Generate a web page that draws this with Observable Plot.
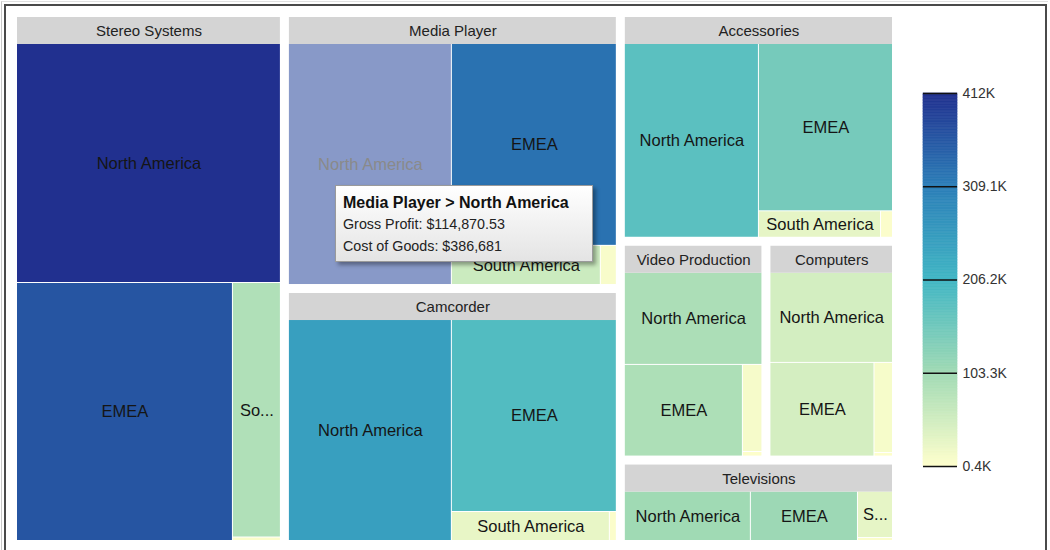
<!DOCTYPE html>
<html>
<head>
<meta charset="utf-8">
<script src="https://cdn.jsdelivr.net/npm/d3@7"></script>
<script src="https://cdn.jsdelivr.net/npm/@observablehq/plot@0.6"></script>
<style>
  html, body { margin: 0; padding: 0; background: #fff; overflow: hidden; width: 1050px; height: 550px; }
  body { font-family: "Liberation Sans", Arial, sans-serif; position: relative; }
  #outer { position: absolute; left: 1px; top: 1px; width: 1046px; height: 560px; border-left: 1px solid #c8c8c8; border-top: 1px solid #e0e0e0; }
  #frame { position: absolute; left: 4px; top: 4px; width: 1039px; height: 560px; border: 2px solid #4a4a4a; border-bottom: none; }
  #chart { position: absolute; left: 0; top: 0; }
  #legend { position: absolute; left: 900px; top: 0; }
  #tip { position: absolute; left: 335px; top: 185px; width: 241px; height: 67px; padding: 6px 8px 2px 7px;
         background: linear-gradient(#ffffff, #e4e4e4); border: 1px solid #9a9a9a;
         box-shadow: 3px 3px 4px rgba(0,0,0,0.35); color: #111; }
  #tip .t { font-weight: bold; font-size: 16px; line-height: 22px; }
  #tip .r { font-size: 14.3px; line-height: 21.5px; color: #222; }
</style>
</head>
<body>
<div id="outer"></div>
<div id="frame"></div>
<div id="chart"></div>
<div id="legend"></div>
<div id="tip"></div>
<script>
// ---- data ----
const categories = ["Stereo Systems", "Media Player", "Camcorder", "Accessories", "Video Production", "Computers", "Televisions"];
const regions = ["North America", "EMEA", "South America", "Asia Pacific"];
// Gross Profit (size)
const profitNorthAmerica = [173400, 114870.53, 106530, 78750, 39810, 34930, 27320];
const profitEMEA         = [153150, 97370, 93680, 67990, 33980, 30810, 23210];
const profitSouthAmerica = [33570, 17060, 13550, 9790, 5340, 5280, 7140];
const profitAsiaPacific  = [460, 1833, 600, 960, 280, 205, 455];
// Cost of Goods (colour)
const costNorthAmerica = [412000, 386681, 249400, 178400, 91000, 48700, 104000];
const costEMEA         = [363700, 326600, 187700, 149600, 90000, 48000, 108000];
const costSouthAmerica = [86800, 57000, 25600, 28000, 10700, 10000, 28000];
const costAsiaPacific  = [5000, 8000, 5000, 5000, 3000, 3000, 5000];
// colour legend
const legendTicks  = [400, 103300, 206200, 309100, 412000];
const legendLabels = ["0.4K", "103.3K", "206.2K", "309.1K", "412K"];
const legendColors = ["#ffffcc", "#a1dab4", "#41b6c4", "#2c7fb8", "#21308f"];
// hovered cell (tooltip)
const hoveredCategory = "Media Player";
const hoveredRegion = "North America";

// ---- build hierarchy ----
const profits = [profitNorthAmerica, profitEMEA, profitSouthAmerica, profitAsiaPacific];
const costs = [costNorthAmerica, costEMEA, costSouthAmerica, costAsiaPacific];
const rows = [];
categories.forEach((c, i) => regions.forEach((r, j) =>
  rows.push({category: c, region: r, profit: profits[j][i], cost: costs[j][i]})));

const W = 875, H = 523, HEADER = 27;
const root = d3.hierarchy({children: categories.map(c => ({name: c, children: rows.filter(r => r.category === c)}))})
  .sum(d => d.profit || 0)
  .sort((a, b) => b.value - a.value);
d3.treemap()
  .tile(d3.treemapSquarify.ratio(1))
  .size([W, H])
  .paddingInner(d => d.depth === 0 ? 9 : 1)
  .paddingTop(d => d.depth === 1 ? HEADER : 0)(root);

const ctx = document.createElement("canvas").getContext("2d");
ctx.font = "16.5px 'Liberation Sans', Arial, sans-serif";
function fitLabel(text, w, h) {
  if (h < 18) return "";
  const avail = w - 8;
  if (ctx.measureText(text).width <= avail) return text;
  for (let k = text.length - 1; k >= 1; k--) {
    const t = text.slice(0, k) + "...";
    if (ctx.measureText(t).width <= avail) return t;
  }
  return "";
}

const leaves = root.leaves().map(n => ({
  ...n.data, x0: n.x0, x1: n.x1, y0: n.y0, y1: n.y1,
  hover: n.data.category === hoveredCategory && n.data.region === hoveredRegion,
  label: fitLabel(n.data.region, n.x1 - n.x0, n.y1 - n.y0)
}));
const cats = root.children.map(n => ({name: n.data.name, x0: n.x0, x1: n.x1, y0: n.y0, y1: n.y1}));

const colorScale = {type: "linear", domain: legendTicks, range: legendColors};

const chart = Plot.plot({
  width: 1050, height: 550,
  x: {domain: [0, W], range: [17, 17 + W], axis: null},
  y: {domain: [0, H], range: [17, 17 + H], axis: null},
  color: colorScale,
  style: {background: "transparent", fontFamily: "'Liberation Sans', Arial, sans-serif"},
  marks: [
    Plot.rect(leaves, {x1: "x0", x2: "x1", y1: "y0", y2: "y1", fill: "cost",
      fillOpacity: d => d.hover ? 0.54 : 1}),
    Plot.rect(cats, {x1: "x0", x2: "x1", y1: "y0", y2: d => d.y0 + HEADER, fill: "#d4d4d4"}),
    Plot.text(cats, {x: d => (d.x0 + d.x1) / 2, y: d => d.y0 + HEADER / 2 + 0.5, text: "name",
      fontSize: 15, fill: "#222"}),
    Plot.text(leaves.filter(d => d.label), {x: d => (d.x0 + d.x1) / 2, y: d => (d.y0 + d.y1) / 2,
      text: "label", fontSize: 16.5, fill: d => d.hover ? "#8a8a8a" : "#151515"})
  ]
});
document.getElementById("chart").append(chart);

// ---- vertical colour legend ----
const N = 240;
const bands = d3.range(N).map(i => {
  const a = legendTicks[0] + (legendTicks[4] - legendTicks[0]) * i / N;
  const b = legendTicks[0] + (legendTicks[4] - legendTicks[0]) * (i + 1) / N;
  return {a, b, m: (a + b) / 2};
});
const legend = Plot.plot({
  width: 150, height: 550,
  x: {domain: [0, 1], range: [23, 57], axis: null},
  y: {domain: [legendTicks[0], legendTicks[4]], range: [466, 93], axis: null},
  color: colorScale,
  style: {background: "transparent", fontFamily: "'Liberation Sans', Arial, sans-serif"},
  marks: [
    Plot.rect(bands, {x1: 0, x2: 1, y1: "a", y2: "b", fill: "m", stroke: "m", strokeWidth: 0.6}),
    Plot.ruleY(legendTicks, {x1: 0, x2: 1, stroke: "#111", strokeWidth: 1.5}),
    Plot.text(legendTicks, {x: 1, y: d => d, text: (d, i) => legendLabels[i], dx: 5,
      textAnchor: "start", fontSize: 14, fill: "#333"})
  ]
});
document.getElementById("legend").append(legend);

// ---- tooltip for hovered cell ----
const h = rows.find(r => r.category === hoveredCategory && r.region === hoveredRegion);
document.getElementById("tip").innerHTML =
  `<div class="t">${h.category} &gt; ${h.region}</div>` +
  `<div class="r">Gross Profit: ${d3.format("$,.2f")(h.profit)}</div>` +
  `<div class="r">Cost of Goods: ${d3.format("$,.0f")(h.cost)}</div>`;
</script>
</body>
</html>
